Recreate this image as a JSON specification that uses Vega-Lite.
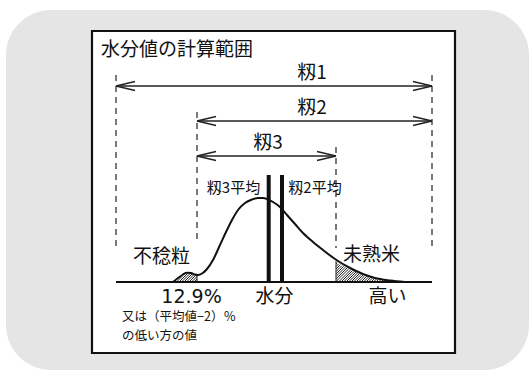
{
  "$schema": "https://vega.github.io/schema/vega-lite/v6.json",
  "width": 531,
  "height": 370,
  "padding": 0,
  "autosize": {"type": "fit", "contains": "padding"},
  "background": "#ffffff",
  "config": {"view": {"stroke": null}},
  "datasets": {
    "bg": [{"x": 6, "x2": 529, "y": 10, "y2": 370}],
    "box": [{"x": 92, "x2": 455, "y": 31, "y2": 353}],
    "arrows": [
      {"x": 116, "y": 86, "x2": 432, "y2": 86},
      {"x": 116, "y": 86, "x2": 135, "y2": 81.5},
      {"x": 116, "y": 86, "x2": 135, "y2": 90.5},
      {"x": 432, "y": 86, "x2": 413, "y2": 81.5},
      {"x": 432, "y": 86, "x2": 413, "y2": 90.5},
      {"x": 197, "y": 121, "x2": 432, "y2": 121},
      {"x": 197, "y": 121, "x2": 216, "y2": 116.5},
      {"x": 197, "y": 121, "x2": 216, "y2": 125.5},
      {"x": 432, "y": 121, "x2": 413, "y2": 116.5},
      {"x": 432, "y": 121, "x2": 413, "y2": 125.5},
      {"x": 197, "y": 156, "x2": 336, "y2": 156},
      {"x": 197, "y": 156, "x2": 216, "y2": 151.5},
      {"x": 197, "y": 156, "x2": 216, "y2": 160.5},
      {"x": 336, "y": 156, "x2": 317, "y2": 151.5},
      {"x": 336, "y": 156, "x2": 317, "y2": 160.5}
    ],
    "dashed": [
      {"x": 116, "y": 75, "x2": 116, "y2": 246},
      {"x": 432, "y": 75, "x2": 432, "y2": 246},
      {"x": 197, "y": 112, "x2": 197, "y2": 242},
      {"x": 336, "y": 147, "x2": 336, "y2": 248}
    ],
    "hatch": [
      {"x": 174, "y": 282, "x2": 177.5, "y2": 278.5},
      {"x": 176.5, "y": 282, "x2": 183, "y2": 275.5},
      {"x": 179, "y": 282, "x2": 187.5, "y2": 273.5},
      {"x": 181.5, "y": 282, "x2": 190, "y2": 273.5},
      {"x": 184, "y": 282, "x2": 192.2, "y2": 273.8},
      {"x": 186.5, "y": 282, "x2": 194, "y2": 274.5},
      {"x": 189, "y": 282, "x2": 196.1, "y2": 274.9},
      {"x": 191.5, "y": 282, "x2": 197, "y2": 276.5},
      {"x": 194, "y": 282, "x2": 197, "y2": 279},
      {"x": 197, "y": 275, "x2": 197, "y2": 282},
      {"x": 336, "y": 261, "x2": 336, "y2": 282},
      {"x": 336, "y": 264, "x2": 337.3, "y2": 262.7},
      {"x": 336, "y": 266.5, "x2": 338.8, "y2": 263.7},
      {"x": 336, "y": 269, "x2": 340.4, "y2": 264.6},
      {"x": 336, "y": 271.5, "x2": 342, "y2": 265.5},
      {"x": 336, "y": 274, "x2": 343.7, "y2": 266.3},
      {"x": 336, "y": 276.5, "x2": 345.4, "y2": 267.1},
      {"x": 336, "y": 279, "x2": 347.1, "y2": 267.9},
      {"x": 336, "y": 281.5, "x2": 348.8, "y2": 268.7},
      {"x": 338.5, "y": 282, "x2": 350.8, "y2": 269.7},
      {"x": 341, "y": 282, "x2": 352.6, "y2": 270.4},
      {"x": 343.5, "y": 282, "x2": 354.3, "y2": 271.2},
      {"x": 346, "y": 282, "x2": 356.1, "y2": 271.9},
      {"x": 348.5, "y": 282, "x2": 357.9, "y2": 272.6},
      {"x": 351, "y": 282, "x2": 359.6, "y2": 273.4},
      {"x": 353.5, "y": 282, "x2": 361.4, "y2": 274.1},
      {"x": 356, "y": 282, "x2": 363.3, "y2": 274.7},
      {"x": 358.5, "y": 282, "x2": 365.2, "y2": 275.3},
      {"x": 361, "y": 282, "x2": 367.1, "y2": 275.9},
      {"x": 363.5, "y": 282, "x2": 369, "y2": 276.5},
      {"x": 366, "y": 282, "x2": 370.9, "y2": 277.1},
      {"x": 368.5, "y": 282, "x2": 372.8, "y2": 277.7},
      {"x": 371, "y": 282, "x2": 374.8, "y2": 278.2},
      {"x": 373.5, "y": 282, "x2": 376.8, "y2": 278.7},
      {"x": 376, "y": 282, "x2": 378.9, "y2": 279.1},
      {"x": 378.5, "y": 282, "x2": 381, "y2": 279.5},
      {"x": 381, "y": 282, "x2": 383, "y2": 280},
      {"x": 383.5, "y": 282, "x2": 385.2, "y2": 280.3},
      {"x": 386, "y": 282, "x2": 387.4, "y2": 280.6},
      {"x": 388.5, "y": 282, "x2": 389.6, "y2": 280.9}
    ],
    "curve": [
      {"x": 173, "y": 282}, {"x": 178, "y": 278}, {"x": 183, "y": 274.5},
      {"x": 187, "y": 272.7}, {"x": 191, "y": 273}, {"x": 195, "y": 274.5},
      {"x": 198, "y": 275}, {"x": 202, "y": 273.5}, {"x": 207, "y": 269},
      {"x": 213, "y": 260}, {"x": 220, "y": 245}, {"x": 226, "y": 232},
      {"x": 232, "y": 220}, {"x": 238, "y": 210}, {"x": 245, "y": 203},
      {"x": 252, "y": 199.5}, {"x": 258, "y": 198}, {"x": 263, "y": 198},
      {"x": 268, "y": 199.5}, {"x": 273, "y": 202}, {"x": 280, "y": 207},
      {"x": 287, "y": 215}, {"x": 295, "y": 224}, {"x": 303, "y": 233},
      {"x": 313, "y": 242}, {"x": 323, "y": 250}, {"x": 335, "y": 259},
      {"x": 350, "y": 268}, {"x": 363, "y": 274}, {"x": 375, "y": 278},
      {"x": 390, "y": 280.5}, {"x": 405, "y": 282}
    ],
    "base": [{"x": 116, "y": 282, "x2": 432, "y2": 282}],
    "bars": [
      {"x": 268.7, "y": 175, "x2": 268.7, "y2": 282},
      {"x": 282, "y": 175, "x2": 282, "y2": 282}
    ],
    "labels": [
      {"g": "title", "x": 101, "y": 50, "t": "水分値の計算範囲"},
      {"g": "big", "x": 312, "y": 73, "t": "籾1"},
      {"g": "big", "x": 312, "y": 108, "t": "籾2"},
      {"g": "big", "x": 268, "y": 143, "t": "籾3"},
      {"g": "small", "x": 233.5, "y": 188, "t": "籾3平均"},
      {"g": "small", "x": 315, "y": 188, "t": "籾2平均"},
      {"g": "big", "x": 161.5, "y": 257, "t": "不稔粒"},
      {"g": "big", "x": 371.5, "y": 255, "t": "未熟米"},
      {"g": "num", "x": 191.5, "y": 297, "t": "12.9%"},
      {"g": "big", "x": 274.5, "y": 297, "t": "水分"},
      {"g": "big", "x": 387.5, "y": 297, "t": "高い"},
      {"g": "note", "x": 122, "y": 317, "t": "又は（平均値−2）％"},
      {"g": "note", "x": 122, "y": 336, "t": "の低い方の値"}
    ]
  },
  "encoding": {
    "x": {"field": "x", "type": "quantitative", "scale": {"domain": [0, 531], "nice": false, "zero": false}, "axis": null},
    "y": {"field": "y", "type": "quantitative", "scale": {"domain": [0, 370], "nice": false, "zero": false, "reverse": true}, "axis": null}
  },
  "layer": [
    {
      "data": {"name": "bg"},
      "mark": {"type": "rect", "fill": "#e5e5e5", "cornerRadius": 45},
      "encoding": {"x2": {"field": "x2"}, "y2": {"field": "y2"}}
    },
    {
      "data": {"name": "box"},
      "mark": {"type": "rect", "fill": "#ffffff", "stroke": "#111111", "strokeWidth": 2.2},
      "encoding": {"x2": {"field": "x2"}, "y2": {"field": "y2"}}
    },
    {
      "data": {"name": "arrows"},
      "mark": {"type": "rule", "color": "#222222", "strokeWidth": 1.3},
      "encoding": {"x2": {"field": "x2"}, "y2": {"field": "y2"}}
    },
    {
      "data": {"name": "dashed"},
      "mark": {"type": "rule", "color": "#222222", "strokeWidth": 1.2, "strokeDash": [6, 5]},
      "encoding": {"x2": {"field": "x2"}, "y2": {"field": "y2"}}
    },
    {
      "data": {"name": "hatch"},
      "mark": {"type": "rule", "color": "#222222", "strokeWidth": 1},
      "encoding": {"x2": {"field": "x2"}, "y2": {"field": "y2"}}
    },
    {
      "data": {"name": "curve"},
      "mark": {"type": "line", "color": "#111111", "strokeWidth": 2, "interpolate": "monotone"},
      "encoding": {}
    },
    {
      "data": {"name": "base"},
      "mark": {"type": "rule", "color": "#111111", "strokeWidth": 2},
      "encoding": {"x2": {"field": "x2"}, "y2": {"field": "y2"}}
    },
    {
      "data": {"name": "bars"},
      "mark": {"type": "rule", "color": "#111111", "strokeWidth": 4},
      "encoding": {"x2": {"field": "x2"}, "y2": {"field": "y2"}}
    },
    {
      "data": {"name": "labels"},
      "transform": [{"filter": "datum.g === 'title'"}],
      "mark": {"type": "text", "align": "left", "baseline": "middle", "font": "Noto Sans CJK JP", "fontSize": 19, "color": "#111111"},
      "encoding": {"text": {"field": "t"}}
    },
    {
      "data": {"name": "labels"},
      "transform": [{"filter": "datum.g === 'big'"}],
      "mark": {"type": "text", "align": "center", "baseline": "middle", "font": "Noto Sans CJK JP", "fontSize": 19, "color": "#111111"},
      "encoding": {"text": {"field": "t"}}
    },
    {
      "data": {"name": "labels"},
      "transform": [{"filter": "datum.g === 'num'"}],
      "mark": {"type": "text", "align": "center", "baseline": "middle", "font": "DejaVu Sans", "fontSize": 19, "color": "#111111"},
      "encoding": {"text": {"field": "t"}}
    },
    {
      "data": {"name": "labels"},
      "transform": [{"filter": "datum.g === 'small'"}],
      "mark": {"type": "text", "align": "center", "baseline": "middle", "font": "Noto Sans CJK JP", "fontSize": 15, "color": "#111111"},
      "encoding": {"text": {"field": "t"}}
    },
    {
      "data": {"name": "labels"},
      "transform": [{"filter": "datum.g === 'note'"}],
      "mark": {"type": "text", "align": "left", "baseline": "middle", "font": "Noto Sans CJK JP", "fontSize": 12.5, "color": "#111111"},
      "encoding": {"text": {"field": "t"}}
    }
  ]
}
